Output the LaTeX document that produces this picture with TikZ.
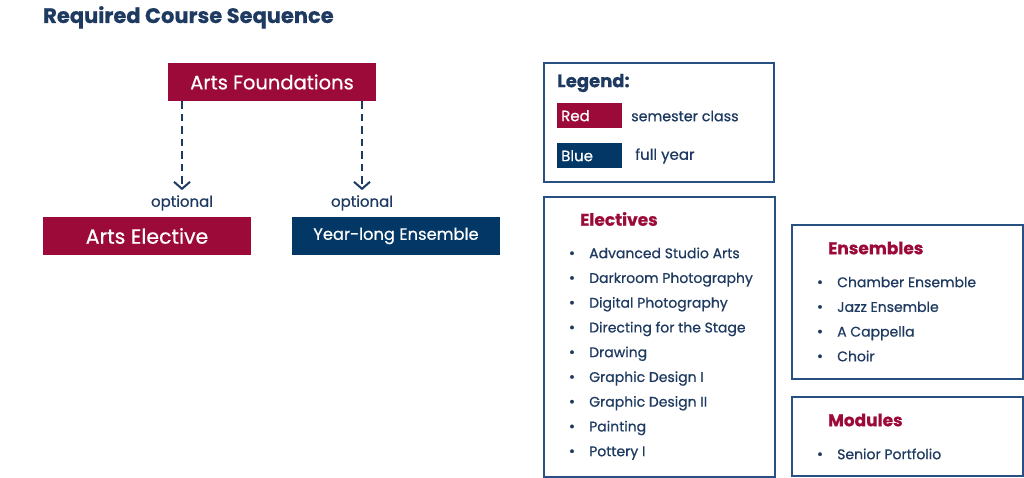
\documentclass[tikz,border=0pt]{standalone}
\usepackage{fontspec}
\setmainfont{Poppins}[FakeBold=0.6]
\usetikzlibrary{arrows.meta}
\definecolor{cred}{RGB}{155,10,56}
\definecolor{cblue}{RGB}{3,55,102}
\definecolor{ctext}{RGB}{30,58,96}
\definecolor{cframe}{RGB}{40,80,130}
\tikzset{
  course/.style={rectangle, minimum width=208, minimum height=38, inner sep=0, text=white},
  frame/.style={rectangle, draw=cframe, line width=1.8pt, anchor=north west, inner sep=0},
  boxtitle/.style={anchor=west, inner sep=0, text=cred, font=\bfseries\fontsize{17}{20}\selectfont},
  itemtext/.style={anchor=west, inner sep=0, text=ctext, font=\fontsize{14}{16}\selectfont},
  bullet/.style={anchor=base, inner sep=0, text=ctext, font=\fontsize{15}{16}\selectfont},
  plain/.style={inner sep=0, text=ctext, font=\fontsize{15}{17}\selectfont},
  swatch/.style={rectangle, anchor=north west, minimum height=25, text width=57, inner xsep=4, inner ysep=0, align=left, text=white, font=\fontsize{15}{17}\selectfont},
  optarrow/.style={draw=ctext, line width=2pt, dash pattern=on 7.5pt off 5pt, -{Straight Barb[length=7pt,width=16pt,line width=2pt]}}
}
\begin{document}
\begin{tikzpicture}[x=1pt,y=-1pt]
\useasboundingbox[fill=white] (0,0) rectangle (1024,478);
% title
\node[anchor=base west, inner sep=0, text=ctext, font=\bfseries\fontsize{21}{24}\selectfont] (title) at (43,23) {Required Course Sequence};
% sequence
\node[course, fill=cred, font=\fontsize{19.5}{22}\selectfont] (af) at (272,82) {Arts Foundations};
\node[course, fill=cred, font=\fontsize{20.5}{22}\selectfont] (ae) at (147,236) {Arts Elective};
\node[course, fill=cblue, font=\fontsize{16.3}{20}\selectfont] (ye) at (396,236) {Year-long Ensemble};
\node[plain] (opt1) at (182,203) {optional};
\node[plain] (opt2) at (362,203) {optional};
\draw[optarrow] (af.south -| opt1) -- ([yshift=5pt]opt1.north);
\draw[optarrow] (af.south -| opt2) -- ([yshift=5pt]opt2.north);
% legend
\node[frame, minimum width=230, minimum height=119] (legend) at (543,62) {};
\node[anchor=west, inner sep=0, text=ctext, font=\bfseries\fontsize{18}{20}\selectfont] (legtitle) at (557,83) {Legend:};
\node[swatch, fill=cred] (red) at (557,103) {Red};
\node[plain, anchor=west, font=\fontsize{14.3}{17}\selectfont] (redtxt) at (631,116) {semester class};
\node[swatch, fill=cblue] (blue) at (557,143) {Blue};
\node[plain, anchor=west] (bluetxt) at (635,156) {full year};
% electives
\node[frame, minimum width=231, minimum height=280] (elect) at (543,196) {};
\node[boxtitle] (electtitle) at (580,219) {Electives};
\foreach \t [count=\i from 0] in {Advanced Studio Arts, Darkroom Photography, Digital Photography, Directing for the Stage, Drawing, Graphic Design I, Graphic Design II, Painting, Pottery I}{
  \node[itemtext] (ei\i) at (589,255+24.75*\i) {\strut\t};
  \node[bullet] (eb\i) at (ei\i.base -| 572,0) {•};
}
% ensembles
\node[frame, minimum width=231, minimum height=154] (ens) at (791,224) {};
\node[boxtitle] (enstitle) at (828,248) {Ensembles};
\foreach \t [count=\i from 0] in {Chamber Ensemble, Jazz Ensemble, A Cappella, Choir}{
  \node[itemtext] (ni\i) at (837,284+24.7*\i) {\strut\t};
  \node[bullet] (nb\i) at (ni\i.base -| 820,0) {•};
}
% modules
\node[frame, minimum width=231, minimum height=79] (mod) at (791,396) {};
\node[boxtitle] (modtitle) at (828,420) {Modules};
\node[itemtext] (mi0) at (837,456) {\strut Senior Portfolio};
\node[bullet] (mb0) at (mi0.base -| 820,0) {•};
\end{tikzpicture}
\end{document}
